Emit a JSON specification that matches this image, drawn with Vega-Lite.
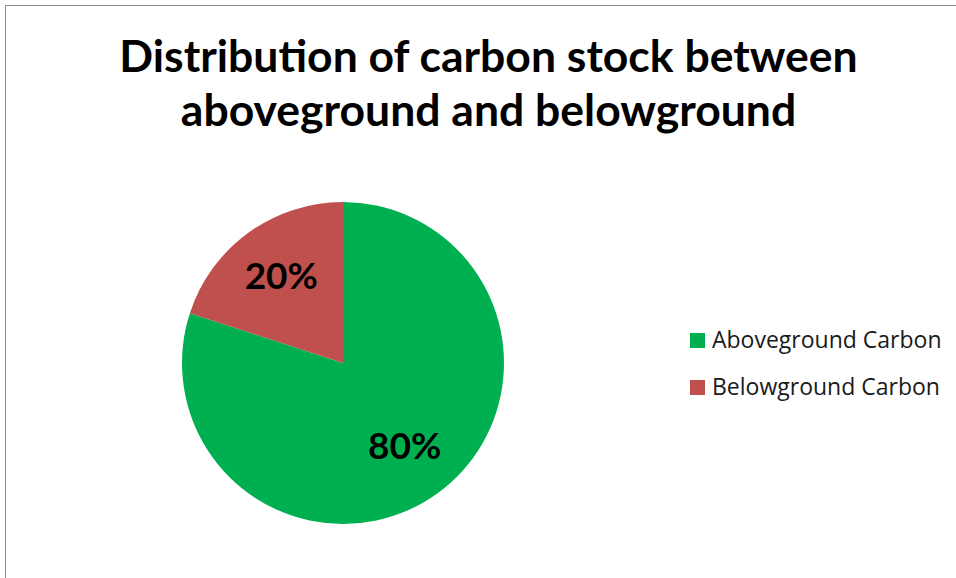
{
  "$schema": "https://vega.github.io/schema/vega-lite/v6.json",
  "width": 951,
  "height": 573,
  "autosize": {"type": "none"},
  "padding": {"left": 5, "top": 5, "right": 0, "bottom": 0},
  "background": "white",
  "view": {"stroke": "#8c8c8c", "strokeWidth": 1},
  "config": {"view": {"stroke": "#8c8c8c", "strokeWidth": 1}},
  "title": {
    "text": ["Distribution of carbon stock between", "aboveground and belowground"],
    "font": "Lato",
    "fontWeight": "bold",
    "fontSize": 44.5,
    "lineHeight": 54,
    "color": "black",
    "anchor": "middle",
    "baseline": "top",
    "dx": 8,
    "dy": 134
  },
  "data": {
    "values": [
      {"pool": "Aboveground Carbon", "share": 80, "label": "80%", "rank": 1},
      {"pool": "Belowground Carbon", "share": 20, "label": "20%", "rank": 2}
    ]
  },
  "encoding": {
    "theta": {"field": "share", "type": "quantitative", "stack": true},
    "order": {"field": "rank", "type": "quantitative"}
  },
  "layer": [
    {
      "mark": {"type": "arc", "outerRadius": 161, "x": 338, "y": 358},
      "encoding": {
        "color": {
          "field": "pool",
          "type": "nominal",
          "scale": {"domain": ["Aboveground Carbon", "Belowground Carbon"], "range": ["#00B050", "#C0504D"]},
          "legend": {
            "orient": "none",
            "legendX": 681,
            "legendY": 324,
            "title": null,
            "padding": 0,
            "symbolType": "square",
            "symbolSize": 225,
            "symbolStrokeWidth": 0,
            "labelFont": "Open Sans",
            "labelFontSize": 23,
            "labelLimit": 400,
            "labelColor": "#1a1a1a",
            "labelOffset": 3,
            "rowPadding": 23
          }
        }
      }
    },
    {
      "mark": {"type": "text", "radius": 105, "x": 338, "y": 358, "font": "Lato", "fontWeight": "bold", "fontSize": 37, "color": "black"},
      "encoding": {"text": {"field": "label", "type": "nominal"}}
    }
  ]
}
